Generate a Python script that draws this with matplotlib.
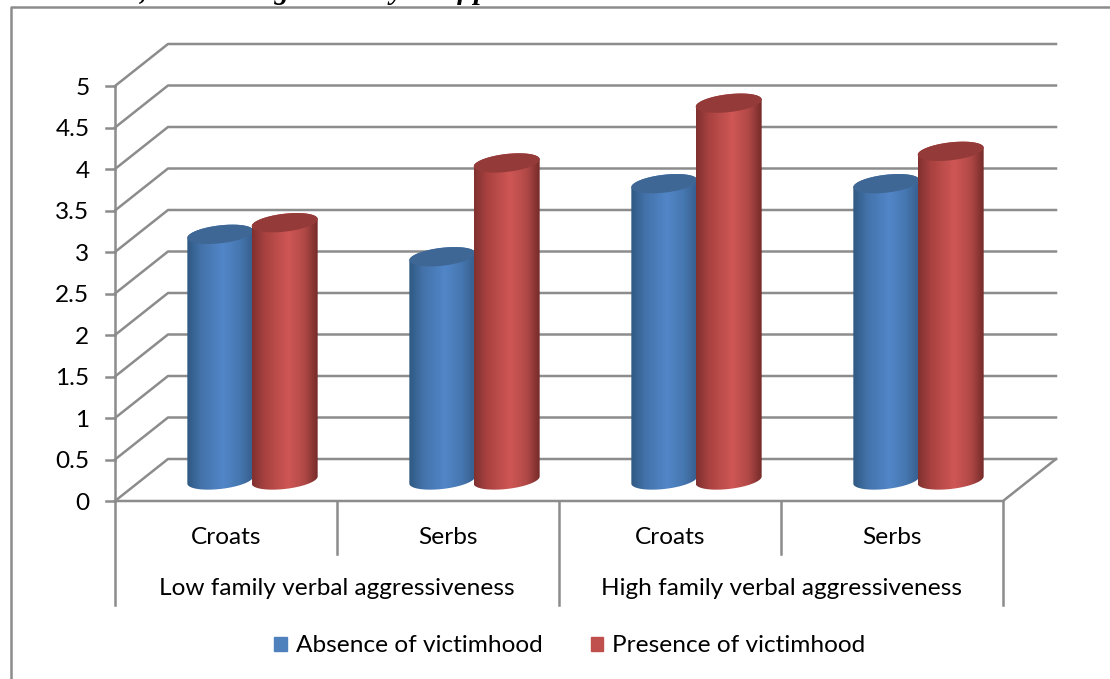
import numpy as np
import matplotlib
matplotlib.use('Agg')
import matplotlib.pyplot as plt
from matplotlib.colors import LinearSegmentedColormap
from matplotlib.patches import Patch, PathPatch
from matplotlib.path import Path

plt.rcParams['font.family'] = ['Lato', 'DejaVu Sans']

# values
groups = ['Low family verbal aggressiveness', 'High family verbal aggressiveness']
ethnicity = ['Croats', 'Serbs', 'Croats', 'Serbs']
absence = [2.96, 2.69, 3.57, 3.57]
presence = [3.10, 3.82, 4.54, 3.96]
y_ticks = [0, 0.5, 1, 1.5, 2, 2.5, 3, 3.5, 4, 4.5, 5]
y_labels = ['0', '0.5', '1', '1.5', '2', '2.5', '3', '3.5', '4', '4.5', '5']
caption = 'victimhood, and the high data styles of parental verbal attitude.'

W, H = 1110, 679
GRID = '#8c8c8c'
LW = 1.8
FS = 17.6
# depth of the 3D box and cylinder shape, in data units
DX, DY = 53 / 222, 42 / 83
RX, KD = 0.138, 0.23
BAR_OFF = 0.145

blue_cmap = LinearSegmentedColormap.from_list('blue3d', [(0, '#2f5982'), (0.22, '#4473ab'), (0.55, '#5186c8'), (0.8, '#4677b0'), (1, '#375f8f')])
red_cmap = LinearSegmentedColormap.from_list('red3d', [(0, '#803130'), (0.2, '#a94240'), (0.55, '#cf5755'), (0.8, '#b14947'), (1, '#752b29')])

fig = plt.figure(figsize=(W / 100, H / 100), dpi=100)
ax = fig.add_axes([115 / W, 1 - 501 / H, 888 / W, 415 / H])
ax.axis('off')


def ring(cx, cy, t):
    # circle in the oblique floor plane
    x = cx + DX / 2 + RX * np.cos(t) + KD * DX * np.sin(t)
    y = cy + DY / 2 + KD * DY * np.sin(t)
    return np.column_stack([x, y])


def cylinder(cx, value, cmap, top_color, z):
    t0 = np.arctan2(KD * DX, RX)
    upper = ring(cx, value, np.linspace(t0, t0 + np.pi, 60))
    lower = ring(cx, 0, np.linspace(t0 + np.pi, t0 + 2 * np.pi, 60))
    body = PathPatch(Path(np.vstack([upper, lower, upper[:1]])), fc='none', ec='none', transform=ax.transData)
    ax.add_patch(body)
    xmin, xmax = lower[:, 0].min(), upper[:, 0].max()
    im = ax.imshow(np.linspace(0, 1, 128)[None, :], cmap=cmap, aspect='auto',
                   extent=[xmin, xmax, 0, value + DY], zorder=z)
    im.set_clip_path(body)
    top = ring(cx, value, np.linspace(0, 2 * np.pi, 120))
    ax.add_patch(PathPatch(Path(top), fc=top_color, ec='none', zorder=z + 0.1))


# box: walls, floor and gridlines
for v, label in zip(y_ticks, y_labels):
    ax.plot([0, DX, 4 + DX], [v, v + DY, v + DY], color=GRID, lw=LW, clip_on=False, zorder=1)
    ax.plot([-0.04, 0], [v, v], color=GRID, lw=LW, clip_on=False, zorder=1)
    ax.text(-0.115, v - 0.025, label, ha='right', va='center', fontsize=FS, color='black')
ax.plot([0, 0], [0, 5], color=GRID, lw=LW, clip_on=False, zorder=1)
ax.plot([0, 4, 4 + DX], [0, 0, DY], color=GRID, lw=LW, clip_on=False, zorder=1)

# multi level category axis
for i in range(5):
    bottom = -1.253 if i % 2 == 0 else -0.639
    ax.plot([i, i], [0, bottom], color=GRID, lw=LW, clip_on=False, zorder=1)
for i, name in enumerate(ethnicity):
    ax.text(i + 0.5, -0.434, name, ha='center', va='center', fontsize=FS, color='black')
for i, name in enumerate(groups):
    ax.text(2 * i + 1, -1.06, name, ha='center', va='center', fontsize=FS, color='black')

for i in range(4):
    cylinder(i + 0.5 - BAR_OFF, absence[i], blue_cmap, '#3e6795', 3 + i)
    cylinder(i + 0.5 + BAR_OFF, presence[i], red_cmap, '#943b39', 3.5 + i)

ax.set_xlim(0, 4)
ax.set_ylim(0, 5)

handles = [Patch(color='#4f81bd', label='Absence of victimhood'),
           Patch(color='#c0504d', label='Presence of victimhood')]
fig.legend(handles=handles, loc='center', bbox_to_anchor=(570 / W, 1 - 646 / H), ncol=2, frameon=False,
           fontsize=FS, handlelength=0.5, handleheight=0.5, handletextpad=0.38, columnspacing=1.97)

# outer chart frame and the clipped caption above it
fig.add_artist(plt.Line2D([11 / W, 11 / W, 1], [0, 1 - 7 / H, 1 - 7 / H], color=GRID, lw=LW))
fig.text(8 / W, 1 + 1 / H, caption, family='Liberation Serif', weight='bold', style='italic',
         fontsize=20.8, ha='left', va='baseline', color='black')

fig.savefig('out.png', dpi=100)
